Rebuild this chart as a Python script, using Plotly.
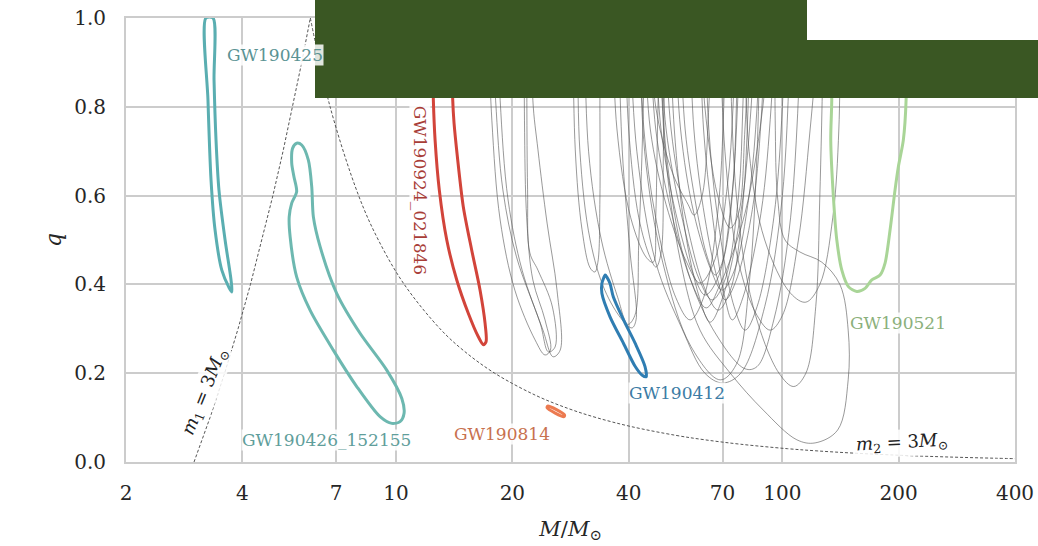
import math
import plotly.graph_objects as go

# ---------------- data (M in solar masses, q = m2/m1) ----------------
x_ticks = [2, 4, 7, 10, 20, 40, 70, 100, 200, 400]
y_ticks = [0.0, 0.2, 0.4, 0.6, 0.8, 1.0]

gw190425_M = [3.22, 3.26, 3.32, 3.40, 3.54, 3.70, 3.76, 3.74, 3.61, 3.48, 3.42, 3.38, 3.36, 3.22]
gw190425_q = [1.0, 0.815, 0.635, 0.523, 0.432, 0.392, 0.383, 0.41, 0.50, 0.613, 0.725, 0.86, 1.0, 1.0]

gw190426_M = [5.53, 5.40, 5.37, 5.44, 5.53, 5.37, 5.29, 5.32, 5.53, 5.99, 6.88, 7.91, 9.09, 9.75,
              10.24, 10.49, 10.35, 9.46, 8.07, 7.02, 6.36, 6.11, 6.05, 5.93, 5.70, 5.53]
gw190426_q = [0.718, 0.707, 0.673, 0.643, 0.609, 0.583, 0.552, 0.507, 0.417, 0.342, 0.252, 0.170, 0.102, 0.087,
              0.091, 0.110, 0.143, 0.207, 0.290, 0.380, 0.485, 0.552, 0.620, 0.680, 0.714, 0.718]

gw190924_M = [12.39, 12.49, 12.62, 12.94, 13.53, 14.36, 15.38, 16.33, 16.83, 17.10, 17.00, 16.50,
              15.70, 14.93, 14.41, 14.13, 14.02, 13.96]
gw190924_q = [1.0, 0.815, 0.725, 0.613, 0.50, 0.41, 0.335, 0.282, 0.264, 0.271, 0.312, 0.387,
              0.477, 0.575, 0.688, 0.763, 0.815, 1.0]

gw190412_M = [34.8, 34.1, 34.1, 35.8, 38.8, 41.6, 43.3, 44.4, 44.1, 41.6, 38.8, 36.5, 35.8, 35.1, 34.8]
gw190412_q = [0.421, 0.402, 0.380, 0.327, 0.267, 0.215, 0.196, 0.192, 0.215, 0.267, 0.320, 0.372, 0.402, 0.417, 0.421]

gw190814_M = [24.7, 27.3, 27.2, 24.6, 24.7]
gw190814_q = [0.126, 0.106, 0.102, 0.122, 0.126]

gw190521_M = [133.7, 134.2, 133.4, 135.5, 138.3, 142.5, 148.2, 155.8, 163.7, 170.4, 179.0, 184.4,
              190.0, 195.7, 199.6, 205.6, 209.0, 209.0]
gw190521_q = [1.0, 0.815, 0.725, 0.598, 0.50, 0.432, 0.395, 0.384, 0.391, 0.410, 0.421, 0.448,
              0.523, 0.613, 0.665, 0.725, 0.815, 1.0]

# other events (grey contours)
grey_M = [
    [17.7, 18.1, 18.9, 20.5, 23.6, 24.8, 25.8, 25.4, 23.3, 22.2, 21.9, 21.8],
    [18.3, 18.6, 19.5, 21.2, 24.0, 25.5, 26.6, 26.1, 24.6, 23.3, 22.6, 22.6],
    [17.3, 17.7, 18.6, 20.3, 22.9, 24.3, 25.1, 24.3, 22.6, 21.8, 21.5, 21.5],
    [28.7, 29.1, 30.3, 31.8, 32.7, 33.3, 33.7, 33.7, 33.7],
    [29.6, 29.9, 31.8, 34.7, 38.5, 40.8, 41.8, 40.3, 38.5, 37.6],
    [30.8, 31.5, 34.0, 37.5, 39.8, 41.5, 42.5, 43.5, 44.1],
    [36.4, 37.3, 40.5, 44.5, 46.3, 47.0, 47.5, 48.2],
    [39.2, 40.0, 42.5, 45.5, 47.1, 48.5, 49.2, 49.7],
    [45.5, 47.0, 52.0, 57.0, 59.1, 62.0, 64.5, 65.8],
    [61.2, 63.0, 68.0, 73.3, 77.0, 80.0, 82.5],
    [44.1, 45.5, 50.0, 56.5, 61.2, 66.5, 72.0, 74.5, 75.5],
    [46.8, 48.5, 53.0, 59.0, 63.1, 68.5, 74.0, 76.5, 77.7],
    [48.2, 50.0, 55.0, 61.0, 65.8, 71.0, 77.0, 79.0, 80.1],
    [49.7, 51.5, 56.5, 63.0, 68.2, 73.5, 79.0, 81.5, 82.5],
    [51.2, 52.5, 56.0, 61.0, 65.0, 70.0, 78.0, 83.0, 85.0],
    [52.8, 54.5, 59.0, 65.5, 69.8, 75.0, 82.0, 86.0, 87.6],
    [54.4, 56.0, 60.0, 64.0, 67.0, 70.5, 74.5, 76.0, 76.8],
    [57.7, 59.0, 63.0, 68.0, 71.1, 76.0, 84.0, 88.5, 90.2],
    [42.8, 43.8, 47.0, 53.0, 57.7, 62.5, 68.0, 70.5, 71.1],
    [61.2, 62.5, 66.0, 71.0, 74.2, 79.0, 88.0, 93.5, 95.8],
    [45.5, 47.0, 52.0, 58.5, 63.5, 69.0, 80.0, 89.0, 93.0],
    [63.1, 64.5, 68.0, 75.0, 80.1, 86.0, 95.0, 100.0, 101.6],
    [40.3, 42.0, 47.0, 55.0, 63.0, 70.0, 78.0, 90.0, 100.0, 105.0],
    [48.2, 50.0, 56.0, 66.0, 80.0, 86.0, 95.0, 105.0, 112.0],
    [73.0, 76.0, 84.0, 98.0, 107.0, 115.0, 122.0, 125.0, 128.0],
    [48.2, 49.7, 54.4, 61.2, 73.3, 89.2, 109.0, 121.5, 139.0, 148.0, 148.0, 141.0, 126.5, 111.0,
     101.6, 97.3, 95.8, 95.8],
    [69.0, 71.0, 77.0, 86.0, 93.0, 100.0, 110.0, 118.0, 125.0],
    [42.8, 44.0, 49.0, 58.0, 69.0, 76.0, 82.0, 86.0, 87.6],
    [80.0, 82.0, 90.0, 105.0, 115.0, 125.0, 135.0, 140.0, 141.0],
]
grey_q = [
    [1.0, 0.815, 0.613, 0.462, 0.313, 0.248, 0.259, 0.349, 0.432, 0.471, 0.613, 1.0],
    [1.0, 0.815, 0.590, 0.432, 0.297, 0.237, 0.252, 0.387, 0.538, 0.703, 0.815, 1.0],
    [1.0, 0.770, 0.545, 0.387, 0.275, 0.241, 0.252, 0.320, 0.410, 0.545, 0.770, 1.0],
    [1.0, 0.703, 0.523, 0.437, 0.428, 0.45, 0.59, 0.815, 1.0],
    [1.0, 0.703, 0.50, 0.387, 0.320, 0.302, 0.320, 0.477, 0.703, 1.0],
    [1.0, 0.70, 0.50, 0.37, 0.31, 0.33, 0.50, 0.75, 1.0],
    [1.0, 0.75, 0.55, 0.46, 0.45, 0.55, 0.75, 1.0],
    [1.0, 0.75, 0.55, 0.46, 0.439, 0.47, 0.70, 1.0],
    [1.0, 0.80, 0.65, 0.58, 0.556, 0.60, 0.80, 1.0],
    [1.0, 0.80, 0.60, 0.527, 0.56, 0.75, 1.0],
    [1.0, 0.75, 0.58, 0.45, 0.403, 0.45, 0.62, 0.80, 1.0],
    [1.0, 0.75, 0.56, 0.42, 0.376, 0.42, 0.60, 0.80, 1.0],
    [1.0, 0.75, 0.55, 0.41, 0.365, 0.41, 0.60, 0.80, 1.0],
    [1.0, 0.75, 0.54, 0.39, 0.342, 0.39, 0.58, 0.80, 1.0],
    [1.0, 0.75, 0.52, 0.37, 0.315, 0.37, 0.56, 0.80, 1.0],
    [1.0, 0.75, 0.56, 0.43, 0.387, 0.43, 0.60, 0.80, 1.0],
    [1.0, 0.75, 0.57, 0.46, 0.421, 0.46, 0.62, 0.80, 1.0],
    [1.0, 0.75, 0.55, 0.41, 0.365, 0.41, 0.58, 0.80, 1.0],
    [1.0, 0.75, 0.55, 0.37, 0.320, 0.37, 0.56, 0.80, 1.0],
    [1.0, 0.75, 0.55, 0.37, 0.320, 0.37, 0.56, 0.80, 1.0],
    [1.0, 0.75, 0.55, 0.40, 0.347, 0.40, 0.56, 0.80, 1.0],
    [1.0, 0.75, 0.55, 0.35, 0.297, 0.35, 0.55, 0.80, 1.0],
    [1.0, 0.70, 0.45, 0.30, 0.20, 0.178, 0.20, 0.35, 0.60, 1.0],
    [1.0, 0.70, 0.45, 0.30, 0.21, 0.215, 0.32, 0.55, 1.0],
    [1.0, 0.60, 0.35, 0.20, 0.17, 0.20, 0.35, 0.60, 1.0],
    [1.0, 0.703, 0.455, 0.297, 0.200, 0.117, 0.050, 0.043, 0.072, 0.185, 0.297, 0.399, 0.450, 0.473,
     0.50, 0.59, 0.77, 1.0],
    [1.0, 0.70, 0.45, 0.33, 0.297, 0.33, 0.50, 0.75, 1.0],
    [1.0, 0.70, 0.45, 0.26, 0.185, 0.22, 0.40, 0.70, 1.0],
    [1.0, 0.70, 0.50, 0.38, 0.36, 0.40, 0.55, 0.75, 1.0],
]

# constant-component-mass lines (m = 3 Msun)
m_limit = 3.0
q_m1_line = [0.0, 0.1, 0.2, 0.3, 0.4, 0.5, 0.6, 0.7, 0.8, 0.9, 1.0]
q_m2_line = [1.0, 0.8, 0.6, 0.5, 0.4, 0.3, 0.25, 0.2, 0.15, 0.12, 0.1, 0.08, 0.06, 0.05,
             0.04, 0.03, 0.025, 0.02, 0.015, 0.012, 0.01, 0.0085, 0.0075]

FONT = "DejaVu Serif"

fig = go.Figure()

for gm, gq in zip(grey_M, grey_q):
    fig.add_trace(go.Scatter(x=gm, y=gq, mode="lines", line=dict(color="rgba(85,85,85,0.6)", width=1,
                                                                   shape="spline"),
                             hoverinfo="skip", showlegend=False))

# dashed limit lines
fig.add_trace(go.Scatter(x=[m_limit * (1 + q) for q in q_m1_line], y=q_m1_line, mode="lines",
                         line=dict(color="#555555", width=1, dash="3px,2px"), showlegend=False))
fig.add_trace(go.Scatter(x=[m_limit * (1 + q) / q for q in q_m2_line], y=q_m2_line, mode="lines",
                         line=dict(color="#555555", width=1, dash="3px,2px", shape="spline"),
                         showlegend=False))

events = [
    (gw190425_M, gw190425_q, "#5aaeb1", 3),
    (gw190426_M, gw190426_q, "#6db8b0", 3),
    (gw190924_M, gw190924_q, "#d2443a", 3),
    (gw190412_M, gw190412_q, "#2f7db2", 3),
    (gw190814_M, gw190814_q, "#ec7a50", 3),
    (gw190521_M, gw190521_q, "#a9d597", 3),
]
for em, eq, col, w in events:
    fig.add_trace(go.Scatter(x=em, y=eq, mode="lines", line=dict(color=col, width=w, shape="spline",
                                                                 smoothing=0.8),
                             showlegend=False))

labels = [
    ("GW190425", 3.63, 0.917, "#5b9394", 0, "left"),
    ("GW190426_152155", 6.59, 0.05, "#5f9e9b", 0, "center"),
    ("GW190924_021846", 11.54, 0.613, "#a83d37", 90, "center"),
    ("GW190814", 18.8, 0.063, "#c8714f", 0, "center"),
    ("GW190412", 53.4, 0.155, "#3c7ca5", 0, "center"),
    ("GW190521", 199, 0.313, "#8bb07b", 0, "center"),
]
for txt, xm, yq, col, ang, xa in labels:
    fig.add_annotation(x=math.log10(xm), y=yq, text=txt, showarrow=False, textangle=ang,
                       xanchor=xa, font=dict(family=FONT, size=17, color=col),
                       bgcolor="rgba(255,255,255,0.85)", borderpad=0)

fig.add_annotation(x=math.log10(3.2), y=0.158, text="<i>m</i><sub>1</sub> = 3<i>M</i><sub>⊙</sub>",
                   showarrow=False, textangle=-68, font=dict(family=FONT, size=18, color="#222222"),
                   bgcolor="rgba(255,255,255,0.85)")
fig.add_annotation(x=math.log10(204), y=0.042, text="<i>m</i><sub>2</sub> = 3<i>M</i><sub>⊙</sub>",
                   showarrow=False, textangle=-3, font=dict(family=FONT, size=18, color="#222222"),
                   bgcolor="rgba(255,255,255,0.85)")

# redaction blocks (paper coords)
L, R, T, B = 126, 23, 18, 84
PW, PH = 1038 - L - R, 546 - T - B


def px(xp):
    return (xp - L) / PW


def py(yp):
    return (546 - B - yp) / PH


green = "#3a5723"
fig.add_shape(type="rect", xref="paper", yref="paper", x0=px(315), x1=px(807), y0=py(98), y1=py(-2),
              fillcolor=green, line=dict(width=0), layer="above")
fig.add_shape(type="rect", xref="paper", yref="paper", x0=px(315), x1=px(1040), y0=py(98), y1=py(40),
              fillcolor=green, line=dict(width=0), layer="above")
fig.add_shape(type="rect", xref="paper", yref="paper", x0=px(807), x1=px(1040), y0=py(40), y1=py(-2),
              fillcolor="white", line=dict(width=0), layer="above")

grid = "#cccccc"
fig.update_layout(
    width=1038, height=546,
    margin=dict(l=L, r=R, t=T, b=B, autoexpand=False),
    plot_bgcolor="white", paper_bgcolor="white",
    showlegend=False,
    font=dict(family=FONT, color="#262626"),
    xaxis=dict(type="log", range=[math.log10(2), math.log10(400)], automargin=False,
               tickvals=x_ticks, ticktext=[str(v) for v in x_ticks],
               showgrid=True, gridcolor=grid, gridwidth=1.8, zeroline=False,
               showline=True, linecolor=grid, linewidth=1.8, mirror=True,
               ticks="", ticklabelstandoff=12,
               tickfont=dict(family=FONT, size=20, color="#262626"),
               title=dict(text="<i>M</i>/<i>M</i><sub>⊙</sub>", standoff=17,
                          font=dict(family=FONT, size=21, color="#262626"))),
    yaxis=dict(range=[0, 1], tickvals=y_ticks, ticktext=["%.1f" % v for v in y_ticks], automargin=False,
               showgrid=True, gridcolor=grid, gridwidth=1.8, zeroline=False,
               showline=True, linecolor=grid, linewidth=1.8, mirror=True,
               ticks="", ticklabelstandoff=14,
               tickfont=dict(family=FONT, size=20, color="#262626"),
               title=dict(text="<i>q</i>", standoff=7,
                          font=dict(family=FONT, size=22, color="#262626"))),
)

fig.write_html("out.html")
